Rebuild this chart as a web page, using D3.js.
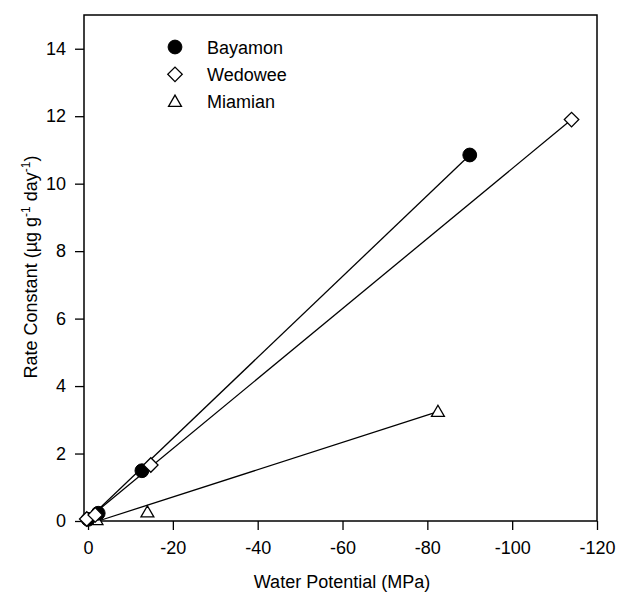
<!DOCTYPE html>
<html>
<head>
<meta charset="utf-8">
<script src="https://cdn.jsdelivr.net/npm/d3@7"></script>
<style>
  body { margin: 0; background: #fff; }
  svg text { font-family: Arial, "Liberation Sans", sans-serif; fill: #000; }
</style>
</head>
<body>
<div id="chart"></div>
<script>
// data
const bayamon = [[0, 0.05], [-2.4, 0.23], [-12.7, 1.49], [-90, 10.85]];
const wedowee = [[0.3, 0.06], [-1.7, 0.18], [-14.8, 1.66], [-114, 11.9]];
const miamian = [[-2, 0.03], [-14, 0.26], [-82.5, 3.24]];

// fitted lines (end points)
const bayamonFit = [[0, 0.05], [-90, 10.85]];
const wedoweeFit = [[0.3, 0.04], [-114, 11.9]];
const miamianFit = [[-2.4, 0], [-82.5, 3.24]];

const xTicks = [0, -20, -40, -60, -80, -100, -120];
const yTicks = [0, 2, 4, 6, 8, 10, 12, 14];
const legendNames = ["Bayamon", "Wedowee", "Miamian"];

const W = 618, H = 592;
const plotL = 84, plotR = 597, plotT = 15, plotB = 521;
const FS = 18;

const svg = d3.select('#chart').append('svg')
    .attr('width', W)
    .attr('height', H);

const x = d3.scaleLinear().domain([0.95, -120]).range([plotL, plotR]);
const y = d3.scaleLinear().domain([0, 15]).range([plotB, plotT]);

// frame
svg.append('rect')
    .attr('x', plotL).attr('y', plotT)
    .attr('width', plotR - plotL).attr('height', plotB - plotT)
    .attr('fill', 'none').attr('stroke', '#000').attr('stroke-width', 1.5);

// axes (plain hyphen for negatives, like the original)
const xAxis = svg.append('g')
    .attr('transform', `translate(0,${plotB})`)
    .call(d3.axisBottom(x).tickValues(xTicks).tickSize(9).tickPadding(11).tickFormat(d => String(d)));
const yAxis = svg.append('g')
    .attr('transform', `translate(${plotL},0)`)
    .call(d3.axisLeft(y).tickValues(yTicks).tickSize(9).tickPadding(9).tickFormat(d => String(d)));

[xAxis, yAxis].forEach(g => {
    g.select('.domain').remove();
    g.selectAll('line').attr('stroke', '#000').attr('stroke-width', 1.3);
    g.selectAll('text').attr('font-size', FS).attr('font-family', 'Arial, "Liberation Sans", sans-serif');
});

// axis titles
svg.append('text')
    .attr('x', 342)
    .attr('y', 588)
    .attr('text-anchor', 'middle')
    .attr('font-size', FS)
    .text('Water Potential (MPa)');

const yTitle = svg.append('text')
    .attr('transform', 'translate(37,267) rotate(-90)')
    .attr('text-anchor', 'middle')
    .attr('font-size', FS);
yTitle.append('tspan').text('Rate Constant (µg g');
yTitle.append('tspan').attr('dy', -7).attr('font-size', 12).text('-1');
yTitle.append('tspan').attr('dy', 7).text(' day');
yTitle.append('tspan').attr('dy', -7).attr('font-size', 12).text('-1');
yTitle.append('tspan').attr('dy', 7).text(')');

// lines
const line = d3.line().x(d => x(d[0])).y(d => y(d[1]));
[miamianFit, wedoweeFit, bayamonFit].forEach(f => {
    svg.append('path')
        .attr('d', line(f))
        .attr('fill', 'none')
        .attr('stroke', '#000')
        .attr('stroke-width', 1.3);
});

// marker shapes
const circleSym = d3.symbol().type(d3.symbolCircle).size(150);
const diamondSym = d3.symbol().type(d3.symbolSquare).size(105);
const triSym = d3.symbol().type(d3.symbolTriangle).size(72);

function drawTri(g, cx, cy) {
    g.append('path')
        .attr('d', triSym())
        .attr('transform', `translate(${cx},${cy + 1})`)
        .attr('fill', '#fff').attr('stroke', '#000').attr('stroke-width', 1.3);
}
function drawDiamond(g, cx, cy) {
    g.append('path')
        .attr('d', diamondSym())
        .attr('transform', `translate(${cx},${cy}) rotate(45)`)
        .attr('fill', '#fff').attr('stroke', '#000').attr('stroke-width', 1.3);
}
function drawCircle(g, cx, cy) {
    g.append('path')
        .attr('d', circleSym())
        .attr('transform', `translate(${cx},${cy})`)
        .attr('fill', '#000').attr('stroke', '#000');
}

const pts = svg.append('g');
miamian.forEach(d => drawTri(pts, x(d[0]), y(d[1])));
bayamon.forEach(d => drawCircle(pts, x(d[0]), y(d[1])));
wedowee.forEach(d => drawDiamond(pts, x(d[0]), y(d[1])));

// legend
const leg = svg.append('g');
const drawers = [drawCircle, drawDiamond, drawTri];
legendNames.forEach((name, i) => {
    const ly = 47 + i * 27.3;
    drawers[i](leg, 175, ly);
    leg.append('text')
        .attr('x', 207)
        .attr('y', ly + 6.5)
        .attr('font-size', FS)
        .text(name);
});
</script>
</body>
</html>
